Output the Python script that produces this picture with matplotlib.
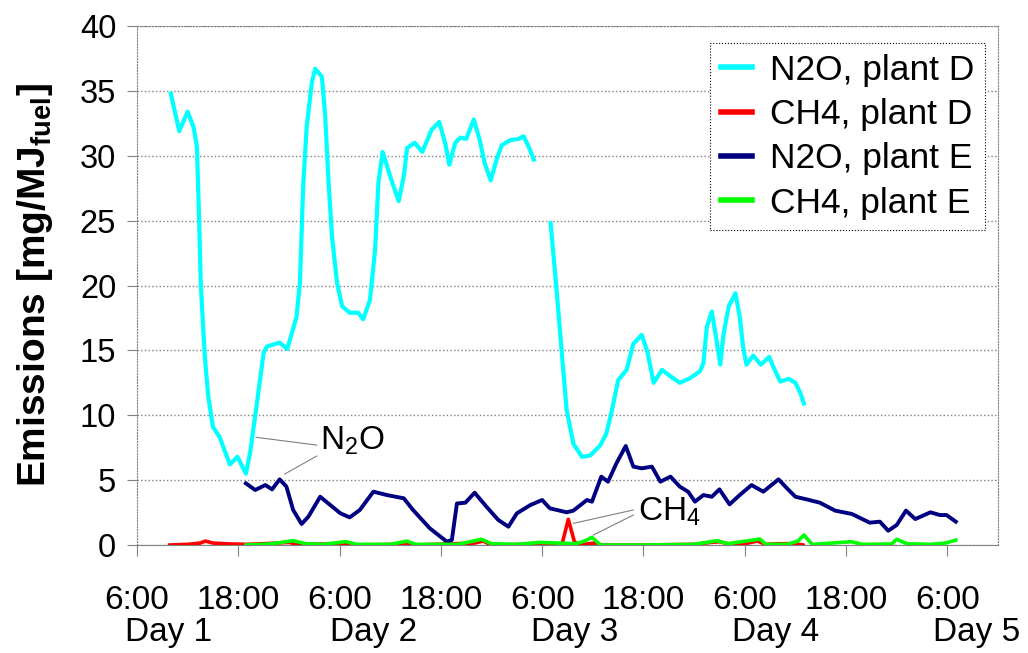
import matplotlib
matplotlib.use("Agg")
import matplotlib.pyplot as plt

plt.rcParams['font.family'] = ['Liberation Sans', 'DejaVu Sans']

# hours after 6:00 Day 1
n2o_d_t1 = [4.0, 5.0, 6.0, 6.7, 7.1, 7.35, 7.55, 7.9, 8.1, 8.45, 9.0, 9.8, 11.0, 11.9, 12.9,
            13.4, 14.2, 15.0, 15.4, 16.9, 17.8, 18.9, 19.3, 19.7, 20.1, 20.7, 21.1, 21.9,
            22.3, 22.7, 23.1, 23.7, 24.3, 25.2, 26.2, 26.8, 27.6, 28.2, 28.6, 29.1, 30.0,
            31.0, 31.6, 32.0, 32.9, 33.8, 34.9, 35.8, 36.5, 37.0, 37.7, 38.3, 39.0, 39.9,
            40.6, 41.2, 41.9, 42.6, 43.2, 44.2, 45.2, 45.8, 46.4, 47.0]
n2o_d_v1 = [34.8, 31.9, 33.4, 32.2, 30.7, 25.3, 20.2, 16.0, 14.0, 11.4, 9.1, 8.3, 6.2, 6.8, 5.5,
            7.1, 10.9, 14.8, 15.3, 15.6, 15.1, 17.6, 20.2, 27.9, 32.2, 35.6, 36.7, 36.1,
            33.0, 27.9, 23.8, 20.2, 18.4, 17.9, 17.9, 17.4, 18.9, 22.7, 27.9, 30.3, 28.4,
            26.5, 28.4, 30.6, 31.0, 30.3, 32.0, 32.6, 31.0, 29.3, 31.0, 31.4, 31.3, 32.8,
            31.2, 29.4, 28.1, 29.7, 30.8, 31.2, 31.3, 31.5, 30.7, 29.7]
n2o_d_t2 = [49.0, 49.7, 50.3, 50.9, 51.7, 52.7, 53.7, 54.9, 55.6, 56.2, 57.0, 58.0, 58.8, 59.8,
            60.5, 61.2, 62.2, 63.2, 64.3, 65.5, 66.7, 67.1, 67.5, 68.1, 68.6, 69.1, 69.5,
            70.1, 70.9, 71.4, 71.8, 72.2, 73.0, 73.9, 74.9, 75.4, 76.2, 77.2, 78.0, 78.6, 79.0]
n2o_d_v2 = [24.8, 19.7, 15.0, 10.4, 7.8, 6.8, 6.9, 7.7, 8.6, 10.2, 12.7, 13.5, 15.5, 16.2,
            14.8, 12.5, 13.5, 13.0, 12.5, 12.85, 13.4, 14.0, 16.8, 18.0, 16.0, 13.9, 16.3,
            18.4, 19.4, 17.6, 15.3, 13.9, 14.6, 13.9, 14.5, 13.7, 12.6, 12.8, 12.5, 11.7, 10.9]

n2o_e_t = [12.9, 14.0, 15.2, 16.0, 16.9, 17.7, 18.5, 19.5, 20.3, 21.7, 22.9, 24.1, 25.2, 26.4,
           28.0, 29.6, 31.6, 32.7, 34.7, 36.7, 37.3, 37.9, 38.9, 40.0, 41.4, 42.8, 44.0,
           45.0, 46.6, 48.0, 48.9, 50.9, 51.7, 53.3, 53.9, 55.0, 55.8, 56.8, 57.9, 58.8,
           59.8, 61.0, 62.0, 63.2, 64.3, 65.3, 66.1, 67.1, 68.1, 69.0, 70.2, 71.4, 72.8,
           74.2, 76.0, 77.0, 78.0, 79.3, 80.9, 82.7, 84.7, 86.8, 88.0, 89.0, 90.0, 91.1,
           92.2, 94.0, 95.1, 95.9, 97.0]
n2o_e_v = [4.75, 4.24, 4.62, 4.29, 5.06, 4.5, 2.7, 1.62, 2.18, 3.72, 3.08, 2.44, 2.13, 2.7,
           4.11, 3.85, 3.6, 2.7, 1.28, 0.26, 0.39, 3.2, 3.26, 4.03, 2.95, 1.93, 1.41,
           2.44, 3.08, 3.47, 2.83, 2.52, 2.65, 3.47, 3.34, 5.27, 4.88, 6.3, 7.63, 6.04,
           5.91, 6.04, 4.88, 5.27, 4.5, 4.1, 3.34, 3.85, 3.72, 4.29, 3.13, 3.85, 4.62,
           4.11, 5.06, 4.37, 3.72, 3.52, 3.26, 2.65, 2.39, 1.72, 1.8, 1.1, 1.54, 2.65,
           2.0, 2.52, 2.31, 2.31, 1.8]

ch4_d_t = [3.9, 6.0, 7.5, 8.1, 9.0, 11.0, 13.0, 15.0, 18.0, 19.0, 24.0, 26.0, 31.0, 32.0,
           33.0, 40.0, 41.0, 42.0, 46.0, 49.0, 49.8, 50.4, 51.1, 51.8, 52.3, 53.5, 54.2,
           55.0, 60.0, 66.0, 68.0, 69.0, 70.0, 72.0, 73.5, 74.5, 76.0, 78.0, 78.9]
ch4_d_v = [0.0, 0.05, 0.15, 0.3, 0.15, 0.08, 0.05, 0.1, 0.2, 0.05, 0.1, 0.0, 0.05, 0.15,
           0.0, 0.15, 0.3, 0.0, 0.05, 0.1, -0.1, 0.2, 1.98, 0.3, 0.0, 0.1, 0.15,
           0.0, 0.0, 0.05, 0.2, 0.25, 0.1, 0.1, 0.3, 0.05, 0.1, 0.1, 0.0]

ch4_e_t = [12.9, 15.0, 16.0, 18.5, 20.0, 22.0, 24.8, 26.0, 30.0, 32.0, 33.0, 38.0, 40.8, 42.0,
           45.0, 47.7, 52.0, 53.0, 53.9, 54.9, 60.0, 66.0, 68.7, 70.0, 73.8, 74.5, 77.0,
           78.3, 79.0, 80.0, 84.6, 86.0, 89.4, 90.0, 91.2, 94.0, 95.8, 97.0]
ch4_e_v = [0.0, 0.05, 0.1, 0.33, 0.1, 0.05, 0.26, 0.05, 0.05, 0.3, 0.05, 0.05, 0.44, 0.1,
           0.05, 0.2, 0.1, 0.3, 0.59, 0.0, 0.0, 0.05, 0.33, 0.1, 0.46, 0.05, 0.05,
           0.3, 0.77, 0.05, 0.25, 0.05, 0.08, 0.44, 0.1, 0.05, 0.15, 0.38]

tick_pos = [0, 12, 24, 36, 48, 60, 72, 84, 96]
tick_lbl = ['6:00', '18:00', '6:00', '18:00', '6:00', '18:00', '6:00', '18:00', '6:00']
day_pos = [3.7, 28.0, 51.8, 75.6, 99.5]
day_lbl = ['Day 1', 'Day 2', 'Day 3', 'Day 4', 'Day 5']

fig = plt.figure(figsize=(10.28, 6.53), dpi=100)
ax = fig.add_axes([137/1028, 108/653, 861/1028, 519/653])

ax.plot(n2o_d_t1, n2o_d_v1, color='#00FFFF', lw=3.0, label='N2O, plant D', zorder=3,
        solid_joinstyle='round')
ax.plot(n2o_d_t2, n2o_d_v2, color='#00FFFF', lw=3.0, zorder=3, solid_joinstyle='round')
ax.plot(ch4_d_t, ch4_d_v, color='#FF0000', lw=2.6, label='CH4, plant D', zorder=3)
ax.plot(n2o_e_t, n2o_e_v, color='#000080', lw=2.8, label='N2O, plant E', zorder=3,
        solid_joinstyle='round')
ax.plot(ch4_e_t, ch4_e_v, color='#00FF00', lw=2.6, label='CH4, plant E', zorder=3)

ax.set_xlim(0, 102)
ax.set_ylim(0, 40)
ax.set_yticks(range(0, 41, 5))
ax.set_xticks(tick_pos)
ax.set_xticklabels(tick_lbl, fontsize=24)
ax.tick_params(axis='y', labelsize=23.5, length=7, color='gray', pad=8)
ax.tick_params(axis='x', length=8, color='gray', pad=21)
ax.grid(axis='y', linestyle=':', color='gray', lw=1.0)

for side in ['left', 'right', 'top']:
    ax.spines[side].set_linestyle(':')
    ax.spines[side].set_color('gray')
ax.spines['bottom'].set_color('gray')

for p, lbl in zip(day_pos, day_lbl):
    ax.text(p, -0.168, lbl, transform=ax.get_xaxis_transform(), fontsize=24,
            ha='center', va='center')

ax.set_ylabel('Emissions [mg/MJ$_{\\mathregular{fuel}}$]', fontsize=28, fontweight='bold', labelpad=18)

# annotations
ax.plot([14.1, 21.3], [8.3, 7.7], color='gray', lw=0.8, zorder=2)
ax.plot([17.5, 21.3], [5.47, 6.86], color='gray', lw=0.8, zorder=2)
ax.text(21.7, 7.4, 'N$_\\mathregular{2}$O', fontsize=24, ha='left', va='baseline')
ax.plot([51.7, 58.8], [1.67, 2.7], color='gray', lw=0.8, zorder=2)
ax.plot([54.06, 58.8], [0.77, 2.31], color='gray', lw=0.8, zorder=2)
ax.text(59.4, 1.93, 'CH$_\\mathregular{4}$', fontsize=24, ha='left', va='baseline')

leg = ax.legend(loc='upper right', bbox_to_anchor=(0.985, 0.967), borderaxespad=0,
                fontsize=25.5, handlelength=0.9, handletextpad=0.5, labelspacing=0.32,
                fancybox=False, framealpha=1, borderpad=0.3)
leg.get_frame().set_edgecolor('black')
leg.get_frame().set_linestyle(':')
leg.get_frame().set_linewidth(0.8)
for line in leg.get_lines():
    line.set_linewidth(4)

fig.savefig('out.png', dpi=100)
